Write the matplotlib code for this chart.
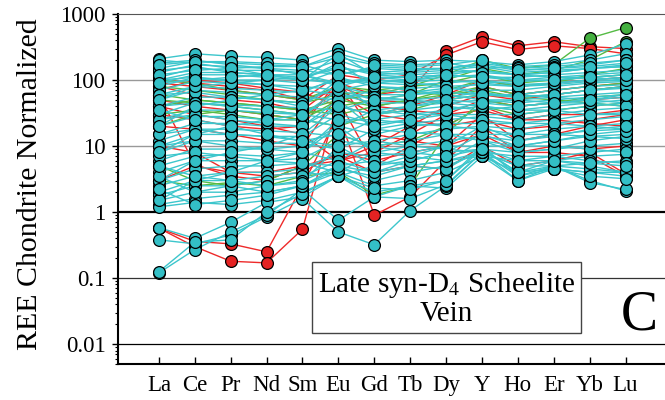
import numpy as np
import matplotlib
matplotlib.use("Agg")
import matplotlib.pyplot as plt

plt.rcParams['font.family'] = ['Liberation Serif', 'DejaVu Serif']
plt.rcParams['mathtext.fontset'] = 'stix'

elements = ["La", "Ce", "Pr", "Nd", "Sm", "Eu", "Gd", "Tb", "Dy", "Y", "Ho", "Er", "Yb", "Lu"]

# cyan samples
cyan = [
    [210, 250, 230, 220, 200, 300, 200, 190, 200, 190, 170, 190, 240, 350],
    [150, 190, 180, 170, 160, 250, 180, 170, 180, 150, 160, 170, 200, 250],
    [130, 170, 160, 150, 140, 120, 150, 140, 150, 170, 140, 150, 170, 200],
    [110, 150, 140, 140, 130, 200, 130, 120, 130, 140, 120, 130, 150, 170],
    [100, 130, 130, 120, 110, 160, 120, 110, 120, 110, 110, 120, 130, 140],
    [90, 120, 120, 110, 100, 90, 110, 100, 110, 120, 100, 110, 120, 130],
    [80, 110, 100, 100, 90, 140, 100, 95, 100, 90, 95, 100, 110, 120],
    [70, 95, 90, 85, 80, 70, 90, 85, 90, 100, 85, 90, 100, 110],
    [60, 80, 75, 70, 65, 110, 80, 75, 80, 85, 80, 85, 95, 100],
    [50, 70, 65, 60, 55, 50, 70, 65, 75, 70, 70, 80, 90, 95],
    [40, 55, 55, 50, 45, 80, 60, 60, 65, 60, 60, 70, 80, 85],
    [30, 45, 42, 40, 38, 35, 50, 50, 55, 65, 55, 60, 70, 75],
    [25, 35, 35, 32, 30, 60, 45, 45, 50, 45, 50, 55, 60, 65],
    [20, 28, 28, 25, 25, 20, 35, 40, 45, 50, 45, 50, 55, 60],
    [15, 22, 22, 20, 20, 40, 30, 35, 40, 35, 40, 45, 50, 55],
    [12, 18, 18, 17, 16, 14, 25, 30, 35, 40, 35, 40, 45, 50],
    [10, 15, 15, 14, 14, 30, 22, 25, 30, 30, 30, 35, 40, 45],
    [8, 12, 12, 11, 11, 9, 18, 22, 25, 28, 25, 30, 35, 38],
    [6, 9, 9, 9, 10, 20, 15, 20, 22, 22, 22, 25, 30, 32],
    [5, 7, 7.5, 7, 8, 6, 12, 15, 18, 20, 18, 22, 25, 28],
    [4, 6, 6, 6, 6.5, 12, 10, 12, 15, 15, 15, 18, 20, 22],
    [3, 4.5, 5, 5, 5.5, 4, 8, 10, 12, 14, 12, 15, 17, 18],
    [2.5, 3.5, 4, 4, 4.5, 8, 7, 8, 10, 10, 10, 12, 14, 15],
    [2, 3, 3, 3.5, 4, 3.5, 5, 6, 8, 9, 8, 9, 10, 11],
    [1.8, 2.5, 2.5, 3, 3.5, 6, 4, 5, 6, 7, 6, 7, 8, 9],
    [1.5, 2, 2, 2.5, 3, 5, 3, 4, 5, 8, 5, 6, 7, 7.5],
    [1.3, 1.6, 1.8, 2, 2.5, 4, 2.5, 3, 4, 7, 4, 5, 5.5, 6],
    [1.2, 1.4, 1.3, 1.5, 2, 3.5, 2, 2.5, 3, 10, 3.5, 4.5, 4, 4],
    [0.58, 0.4, 0.7, 1.4, 1.7, 3.5, 1.7, 2.5, 2.3, 7, 3, 5, 3, 2.1],
    [0.38, 0.33, 0.45, 0.85, 1.6, 0.5, 0.32, 1.05, 2.5, 8, 3.5, 5, 2.8, 2.2],
    [0.12, 0.27, 0.5, 0.9, 2.2, 0.75, 1.7, 1.6, 2.6, 8, 3, 4.5, 4, 3.5],
    [0.125, 0.35, 0.38, 1.0, 1.9, 3.5, 2.3, 2.2, 3, 9, 4, 6, 5, 4],
    [180, 200, 170, 150, 120, 90, 100, 90, 80, 60, 60, 55, 50, 45],
    [140, 160, 130, 120, 100, 180, 80, 70, 60, 50, 50, 45, 45, 40],
    [100, 110, 95, 85, 70, 60, 55, 50, 45, 40, 35, 35, 30, 30],
    [60, 65, 55, 50, 40, 100, 35, 30, 30, 25, 22, 22, 20, 18],
    [40, 45, 40, 35, 30, 25, 25, 22, 20, 18, 15, 15, 14, 13],
    [25, 30, 25, 22, 20, 50, 18, 16, 15, 12, 10, 10, 9, 8],
    [15, 18, 15, 14, 12, 10, 12, 10, 9, 8, 7, 7, 6, 5.5],
    [10, 12, 10, 9, 8, 20, 8, 7, 6, 8, 5, 5, 4.5, 4],
    [7, 8, 7, 6, 5.5, 5, 6, 5, 4.5, 9, 4, 4.5, 3.5, 3.2],
    [50, 80, 90, 100, 110, 150, 130, 140, 150, 180, 150, 160, 180, 200],
    [20, 40, 50, 60, 70, 100, 90, 100, 120, 140, 120, 130, 150, 160],
    [8, 15, 20, 25, 30, 70, 50, 60, 70, 90, 80, 90, 100, 110],
    [3, 6, 8, 10, 15, 40, 30, 40, 50, 60, 55, 60, 70, 80],
    [1.5, 3, 4, 6, 8, 25, 20, 25, 35, 45, 40, 45, 50, 60],
    [200, 180, 150, 120, 100, 250, 120, 130, 140, 160, 130, 140, 150, 160],
    [170, 190, 190, 180, 170, 120, 160, 150, 150, 130, 120, 110, 110, 100],
    [120, 140, 150, 160, 160, 220, 170, 160, 170, 200, 140, 150, 160, 180],
    [90, 100, 110, 120, 120, 80, 110, 110, 120, 110, 100, 100, 110, 120],
    [3.5, 2, 2.5, 2, 2.5, 4.5, 3.5, 5, 6, 12, 8, 9, 12, 14],
    [2.2, 1.3, 1.5, 1.8, 2.5, 5, 4, 6, 8, 15, 10, 12, 15, 17],
    [5, 3.5, 3, 2.5, 2.8, 10, 5, 7, 10, 20, 12, 14, 18, 20],
    [35, 25, 20, 15, 12, 15, 10, 8, 7, 9, 6, 6, 5.5, 5],
]

# red samples
red = [
    [0.57, 0.36, 0.33, 0.25, 2.5, 30, 0.9, 1.7, 6, 20, 8, 10, 9, 10],
    [0.57, 0.3, 0.18, 0.17, 0.55, 50, 5, 10, 20, 40, 25, 30, 30, 35],
    [80, 60, 50, 45, 35, 90, 60, 70, 280, 450, 330, 380, 320, 300],
    [100, 90, 80, 70, 50, 120, 100, 120, 240, 380, 290, 330, 300, 250],
    [60, 5.2, 3.5, 3, 5, 6, 10, 20, 40, 60, 50, 60, 70, 80],
    [40, 30, 25, 20, 15, 6, 8, 15, 30, 50, 40, 45, 50, 55],
    [90, 80, 70, 60, 50, 70, 40, 35, 30, 35, 25, 25, 22, 20],
    [30, 25, 20, 18, 20, 100, 15, 12, 10, 15, 8, 8, 7, 3.5],
    [20, 18, 15, 12, 10, 60, 30, 40, 60, 100, 80, 90, 100, 110],
    [10, 8, 4, 3.5, 4, 8, 6, 8, 10, 30, 12, 15, 20, 25],
    [50, 40, 35, 30, 25, 80, 50, 45, 50, 80, 60, 70, 80, 90],
    [3, 5, 4, 4, 5, 7, 4, 5, 4.5, 10, 5, 6, 8, 3.8],
    [70, 100, 90, 75, 65, 40, 30, 25, 20, 25, 18, 20, 25, 30],
]

# green samples
green = [
    [60, 50, 45, 40, 35, 50, 60, 80, 120, 200, 150, 170, 430, 620],
    [50, 45, 40, 35, 30, 40, 50, 60, 100, 150, 120, 140, 200, 380],
    [80, 70, 60, 50, 45, 60, 70, 80, 90, 120, 90, 100, 110, 120],
    [40, 50, 45, 40, 35, 30, 40, 50, 60, 80, 60, 70, 80, 90],
    [30, 35, 30, 25, 25, 20, 30, 35, 50, 60, 55, 60, 70, 80],
    [5, 3, 2.5, 3, 5, 15, 10, 12, 20, 40, 30, 35, 40, 45],
    [3, 2.5, 2.8, 2.5, 3.5, 4, 1.8, 2.5, 15, 50, 40, 45, 55, 60],
    [100, 90, 70, 60, 50, 80, 70, 65, 60, 70, 55, 50, 45, 40],
    [20, 30, 35, 30, 25, 50, 40, 50, 70, 100, 80, 90, 120, 150],
]

fig = plt.figure(figsize=(6.65, 4.0), dpi=100)
ax = fig.add_axes([0.1774, 0.09, 0.8226, 0.875])
x = np.arange(len(elements))

groups = [(red, "#ee2a2a", "#e52222"), (green, "#55bb44", "#44b040"), (cyan, "#3cc6cc", "#33bfc6")]
for data, lc, mc in groups:
    for row in data:
        ax.plot(x, row, color=lc, lw=1.0, zorder=2)
for data, lc, mc in groups:
    for row in data:
        ax.plot(x, row, ls="none", marker="o", ms=8.5, mfc=mc, mec="black", mew=0.9, zorder=3)

ax.set_yscale("log")
ax.set_ylim(0.005, 1000)
ax.set_xlim(-1.14, 14.1)

ax.axhline(100, color="#999999", lw=1.0, zorder=1)
ax.axhline(10, color="#999999", lw=1.0, zorder=1)
ax.axhline(1, color="black", lw=1.6, zorder=1)
ax.axhline(0.1, color="#333333", lw=0.9, zorder=1)
ax.axhline(0.01, color="black", lw=0.9, zorder=1)

ax.set_yticks([0.01, 0.1, 1, 10, 100, 1000])
ax.set_yticklabels(["0.01", "0.1", "1", "10", "100", "1000"])
ax.set_xticks(x)
ax.set_xticklabels(elements)
ax.tick_params(axis="y", which="major", direction="out", length=4, width=1, labelsize=16.5, pad=5)
ax.tick_params(axis="y", which="minor", direction="out", length=2, width=0.8)
ax.tick_params(axis="x", direction="in", length=5, width=1, labelsize=16.5, pad=8)

ax.spines["right"].set_visible(False)
ax.spines["top"].set_color("#555555")
ax.spines["left"].set_linewidth(1.5)
ax.spines["bottom"].set_linewidth(1.5)

ax.set_ylabel("REE Chondrite Normalized", fontsize=21.5)
ax.yaxis.set_label_coords(-0.137, 0.514)

fig.text(0.6715, 0.253, "Late syn-D$_4$ Scheelite\nVein", fontsize=21, ha="center", va="center",
         linespacing=1.05, zorder=5,
         bbox=dict(boxstyle="square,pad=0.2", fc="white", ec="#444444", lw=1.0))
fig.text(0.962, 0.212, "C", fontsize=40, ha="center", va="center")

fig.savefig("out.png", dpi=100)
